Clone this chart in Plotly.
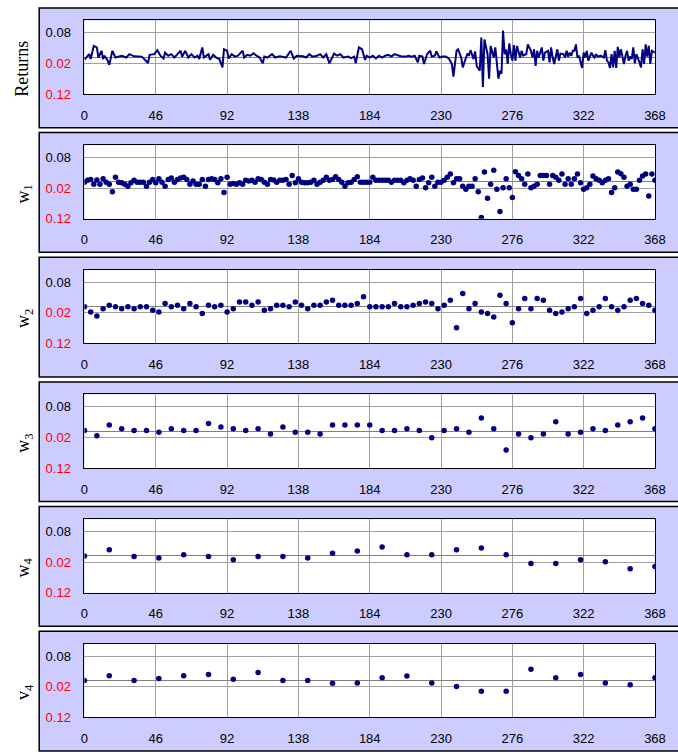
import plotly.graph_objects as go

# ---------------- data ----------------
x_ticks = [0, 46, 92, 138, 184, 230, 276, 322, 368]
y_ticks = [-0.12, -0.02, 0.08]
y_tick_text = ['<span style="color:#FF0000">0.12</span>',
               '<span style="color:#FF0000">0.02</span>',
               '0.08']
panel_titles = ["Returns", "w<sub>1</sub>", "w<sub>2</sub>", "w<sub>3</sub>",
                "w<sub>4</sub>", "v<sub>4</sub>"]

returns_x = [0, 3, 4, 6, 8, 9, 11, 12, 13, 15, 16, 18, 20, 24, 27, 29, 32, 37, 41, 42,
             45, 47, 49, 51, 52, 54, 56, 58, 60, 62, 63, 65, 67, 69, 71, 73, 74, 76, 77, 80,
             81, 83, 85, 87, 89, 90, 92, 93, 95, 97, 99, 102, 103, 105, 107, 109, 111, 113, 115, 116,
             118, 121, 123, 126, 130, 133, 135, 137, 141, 143, 145, 147, 150, 152, 154, 156, 158, 161, 163, 165,
             167, 170, 172, 174, 175, 177, 179, 181,
             182, 184, 186, 188, 190, 192, 194, 196, 198, 200, 203, 205, 207, 209, 211, 213, 215, 216, 218, 219,
             221, 223, 224, 226, 227, 229, 231, 233, 235, 237, 238, 240, 241, 243, 244, 246, 247, 248, 249, 251,
             252, 253, 255, 256, 257, 258, 260, 261, 262, 264, 265, 267, 268, 269, 270, 271, 272, 273, 274, 275,
             276, 277, 278, 279, 280, 281, 282, 283, 285, 286, 288, 289, 290, 291, 292, 293, 295, 296, 297, 299,
             300, 301, 302, 303, 305, 306, 307, 309, 310, 311, 312, 313, 314, 315, 316, 317, 318, 319, 321, 322,
             323, 324, 325, 327, 328, 329, 330, 331, 333, 335, 336, 337, 338, 339, 340, 341, 342, 343, 344, 345,
             346, 348, 349, 350, 351, 352, 353, 354, 355, 356, 358, 359, 360, 361, 362, 363, 364, 365, 366, 368]
returns_y = [-0.008, 0.010, -0.006, 0.037, 0.032, -0.001, 0.021, -0.006, 0.005, -0.011, -0.025, 0.021, -0.001, 0.005, -0.001, 0.010, 0.003, 0.002, -0.019, 0.008,
             0.010, 0.023, 0.005, -0.004, 0.015, 0.005, 0.010, -0.001, 0.010, 0.021, 0.002, 0.021, -0.001, 0.010, -0.001, 0.005, -0.006, 0.032, -0.001, 0.010,
             -0.008, 0.008, -0.001, -0.006, -0.033, 0.026, 0.021, -0.004, 0.010, 0.002, 0.005, 0.021, -0.001, 0.008, 0.005, 0.013, 0.005, -0.001, -0.020, 0.002,
             -0.001, 0.010, -0.001, 0.003, -0.001, 0.021, -0.004, 0.005, 0.003, -0.001, 0.010, 0.002, 0.005, 0.010, -0.001, 0.010, -0.020, 0.012, 0.005, 0.010,
             -0.001, 0.002, -0.003, 0.002, -0.020, 0.032, 0.026, -0.009,
             0.005, -0.001, 0.005, -0.004, 0.005, -0.001, 0.005, 0.008, 0.002, 0.010, 0.005, 0.002, 0.002, 0.005, 0.002, 0.005, -0.017, 0.005, 0.002, -0.022,
             0.010, 0.021, 0.002, 0.005, 0.019, -0.001, 0.002, 0.002, -0.004, -0.022, -0.063, 0.021, 0.026, -0.001, -0.033, -0.001, 0.012, 0.005, 0.023, -0.006,
             0.019, -0.028, -0.044, 0.064, -0.097, 0.058, 0.010, -0.070, 0.037, -0.001, 0.032, -0.070, -0.044, -0.054, 0.087, 0.010, 0.026, -0.022, 0.045, 0.010,
             -0.011, 0.040, -0.011, 0.037, 0.015, -0.001, 0.021, 0.005, 0.010, 0.042, 0.021, -0.001, 0.026, -0.028, 0.021, -0.001, 0.032, -0.011, 0.015, 0.021,
             -0.017, 0.032, -0.001, -0.022, 0.026, -0.011, 0.012, 0.010, -0.001, 0.021, 0.002, 0.015, 0.005, 0.021, 0.021, 0.042, -0.001, 0.005, -0.035, 0.015,
             -0.001, 0.021, -0.011, 0.015, 0.005, -0.001, 0.010, 0.002, 0.005, -0.001, 0.023, -0.011, -0.017, -0.035, 0.010, -0.033, 0.021, -0.035, 0.034, -0.001,
             0.026, -0.022, 0.005, 0.021, -0.011, 0.002, -0.006, 0.032, -0.020, 0.010, -0.017, -0.033, 0.026, -0.022, 0.042, 0.002, 0.037, -0.022, 0.021, 0.015]

w1_x = list(range(0, 369, 2))
w1_y = [-0.001, 0.005, 0.008, -0.008, 0.006, -0.008, 0.010, -0.001, -0.008, -0.032,
        0.015, -0.001, -0.003, -0.008, -0.014, -0.003, 0.005, -0.001, -0.001, -0.001,
        -0.014, -0.001, 0.008, -0.003, 0.010, -0.001, -0.014, 0.008, 0.013, -0.001,
        0.008, 0.013, 0.015, 0.008, -0.008, 0.003, -0.008, -0.008, 0.008, -0.014,
        0.008, 0.010, 0.008, -0.003, 0.010, -0.035, 0.015, -0.008, -0.005, -0.008,
        -0.003, -0.008, 0.005, 0.003, 0.005, -0.001, 0.010, 0.008, -0.001, -0.008,
        0.008, 0.006, -0.001, 0.005, 0.005, 0.008, -0.008, 0.021, -0.003, 0.010,
        -0.001, -0.003, -0.003, -0.001, 0.005, -0.008, -0.001, 0.005, 0.015, 0.005,
        0.008, 0.017, 0.008, -0.001, -0.014, -0.003, -0.001, 0.008, 0.017, -0.001,
        -0.001,
        -0.001, -0.001, 0.015, 0.005, 0.005, 0.005, 0.005, 0.005, -0.001, 0.005,
        0.005, 0.005, -0.003, 0.005, 0.010, 0.005, -0.014, 0.008, 0.013, -0.019,
        -0.003, 0.015, -0.014, -0.001, -0.001, 0.005, 0.015, 0.026, -0.003, 0.010,
        0.010, -0.014, -0.024, -0.014, -0.014, 0.010, -0.032, -0.116, 0.032, -0.053,
        -0.008, 0.038, -0.024, -0.097, -0.019, 0.010, -0.019, -0.051, 0.033, 0.021,
        0.010, -0.008, 0.026, -0.019, -0.014, -0.008, 0.021, 0.021, 0.021, -0.008,
        0.021, 0.015, 0.005, 0.026, -0.008, 0.010, -0.008, 0.010, 0.026, -0.003,
        -0.024, -0.019, -0.008, 0.019, 0.010, 0.005, -0.003, 0.005, 0.010, -0.035,
        -0.019, 0.032, 0.027, 0.015, -0.014, -0.008, -0.024, -0.024, 0.005, 0.019,
        0.026, -0.046, 0.026, 0.005]

w2_x = list(range(0, 369, 4))
w2_y = [-0.001, -0.018, -0.031, -0.007, 0.004, -0.001, -0.007, -0.001, -0.007, -0.001,
        -0.001, -0.012, -0.018, 0.010, -0.001, 0.004, -0.007, 0.010, -0.001, -0.023,
        0.004, -0.001, 0.004, -0.018, -0.007, 0.015, 0.015, 0.004, 0.015, -0.012,
        -0.007, 0.004, 0.004, -0.001, 0.015, 0.004, -0.007, 0.004, 0.004, 0.015,
        0.021, 0.004, 0.004, 0.004, 0.010, 0.032, -0.001, -0.001, -0.001, -0.001,
        0.010, -0.001, -0.001, 0.004, 0.010, 0.015, 0.010, -0.007, 0.004, 0.021,
        -0.069, 0.043, -0.007, 0.010, -0.018, -0.023, -0.034, 0.037, 0.010, -0.053,
        -0.007, 0.026, -0.007, 0.026, 0.021, -0.012, -0.023, -0.018, -0.007, -0.001,
        0.026, -0.023, -0.012, -0.001, 0.026, -0.001, -0.012, -0.001, 0.021, 0.026,
        0.010, 0.004, -0.012]

w3_x = list(range(0, 369, 8))
w3_y = [0.002, -0.015, 0.020, 0.008, 0.002, 0.002, -0.003, 0.008, 0.002, 0.002,
        0.025, 0.014, 0.008, 0.002, 0.008, -0.009, 0.014, -0.003, -0.003, -0.009,
        0.020, 0.020, 0.020, 0.020, 0.002, 0.002, 0.008, 0.002, -0.021, 0.002,
        0.008, -0.003, 0.043, 0.008, -0.061, -0.009, -0.021, -0.009, 0.031, -0.009,
        -0.003, 0.008, 0.002, 0.020, 0.031, 0.043, 0.008]

w4_x = list(range(0, 369, 16))
w4_y = [0.000, 0.020, -0.002, -0.007, 0.004, -0.002, -0.013, -0.002, -0.002, -0.007,
        0.009, 0.016, 0.029, 0.004, 0.004, 0.020, 0.026, 0.004, -0.025, -0.025,
        -0.013, -0.019, -0.042, -0.035]

v4_x = list(range(0, 369, 16))
v4_y = [0.000, 0.016, 0.000, 0.007, 0.016, 0.020, 0.004, 0.026, 0.000, 0.000,
        -0.009, -0.008, 0.009, 0.015, -0.008, -0.019, -0.035, -0.035, 0.037, 0.009,
        0.020, -0.008, -0.014, 0.009]

series = [(returns_x, returns_y, "lines"), (w1_x, w1_y, "markers"), (w2_x, w2_y, "markers"),
          (w3_x, w3_y, "markers"), (w4_x, w4_y, "markers"), (v4_x, v4_y, "markers")]

# ---------------- layout geometry (pixels) ----------------
W, H = 678, 754
NAVY = "#000080"
LAV = "#CCCCFF"
plot_left, plot_right = 82.3, 665.7
step = 126.0
box_top0, box_h = 8.0, 121.0
plot_top0, plot_bot0 = 20.7, 95.0
box_left = 36.0

fig = go.Figure()
shapes = []
annotations = []
layout_axes = {}

for k, (xs, ys, mode) in enumerate(series):
    idx = "" if k == 0 else str(k + 1)
    xa, ya = "x" + idx, "y" + idx
    if mode == "lines":
        fig.add_trace(go.Scatter(x=xs, y=ys, mode="lines", xaxis=xa, yaxis=ya,
                                 line=dict(color=NAVY, width=2), showlegend=False))
    else:
        fig.add_trace(go.Scatter(x=xs, y=ys, mode="markers", xaxis=xa, yaxis=ya,
                                 marker=dict(color=NAVY, size=5.5), showlegend=False))
    pt = plot_top0 + step * k
    pb = plot_bot0 + step * k
    bt = box_top0 + step * k
    bb = bt + box_h
    # panel box
    shapes.append(dict(type="rect", xref="paper", yref="paper", layer="below",
                       x0=box_left / W, x1=1.02, y0=1 - bb / H, y1=1 - bt / H,
                       fillcolor=LAV, line=dict(color="#000000", width=1.5)))
    shapes.append(dict(type="rect", xref="paper", yref="paper", layer="below",
                       x0=plot_left / W, x1=plot_right / W, y0=1 - pb / H, y1=1 - pt / H,
                       fillcolor="#FFFFFF", line=dict(width=0)))
    layout_axes["xaxis" + idx] = dict(
        domain=[plot_left / W, plot_right / W], anchor=ya, range=[0, 368],
        tickvals=x_ticks, ticktext=[str(v) for v in x_ticks],
        showgrid=True, gridcolor="#A0A0A0", gridwidth=1, zeroline=False,
        showline=True, linecolor="#000000", linewidth=1, mirror=True,
        ticks="", ticklabelstandoff=9,
        tickfont=dict(family="Liberation Sans, Arial", size=13, color="#000000"))
    layout_axes["yaxis" + idx] = dict(
        domain=[1 - pb / H, 1 - pt / H], anchor=xa, range=[-0.12, 0.12],
        tickvals=y_ticks, ticktext=y_tick_text,
        showgrid=True, gridcolor="#A0A0A0", gridwidth=1,
        zeroline=True, zerolinecolor="#808080", zerolinewidth=1,
        showline=True, linecolor="#000000", linewidth=1, mirror=True,
        ticks="", ticklabelstandoff=10,
        tickfont=dict(family="Liberation Sans, Arial", size=13, color="#000000"))
    annotations.append(dict(text=panel_titles[k], xref="paper", yref="paper",
                            x=(19 if k == 0 else 21) / W, y=1 - (70 + step * k) / H,
                            showarrow=False, textangle=-90, xanchor="center", yanchor="middle",
                            font=dict(family="Liberation Serif, Times New Roman", size=18, color="#000000")))

fig.update_layout(width=W, height=H, margin=dict(l=0, r=0, t=0, b=0),
                  paper_bgcolor="#FFFFFF", plot_bgcolor="#FFFFFF",
                  shapes=shapes, annotations=annotations, showlegend=False,
                  **layout_axes)

assert len(returns_x) == len(returns_y)
fig.write_html("out.html")
